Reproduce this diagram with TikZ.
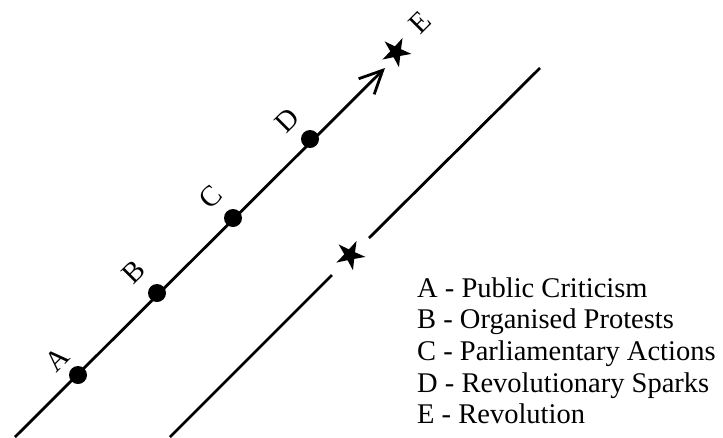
\documentclass[tikz,border=0pt]{standalone}
\usepackage{fontspec}
\setmainfont{Liberation Serif}
\usetikzlibrary{arrows.meta, calc, shapes.geometric}
\tikzset{
  track/.style={line width=2.8pt, line cap=butt},
  stage/.style={circle, fill=black, minimum size=18pt, inner sep=0pt},
  marker/.style={star, star points=5, star point ratio=2.7, fill=black,
    minimum size=31pt, inner sep=0pt, rotate=-25},
  tag/.style={font=\fontsize{29}{32}\selectfont, rotate=45, inner sep=0pt},
  keytext/.style={font=\fontsize{28.5}{32}\selectfont, anchor=base west, inner sep=0pt}
}

\begin{document}
\begin{tikzpicture}[x=1pt, y=-1pt]
\useasboundingbox (0,0) rectangle (723,437);

%% Upper track
\coordinate (s1)  at (15,437);
\coordinate (tip) at (385,68);
\draw[track, -{Straight Barb[length=23pt, width=22pt]}] (s1) -- (tip);

\node[stage] (A) at (78,375) {};
\node[stage] (B) at (157,293) {};
\node[stage] (C) at (233,218) {};
\node[stage] (D) at (310,139) {};
\node[marker] (E) at (396,52) {};

\node[tag] (labA) at (57,359) {A};
\node[tag] (labB) at (134,272) {B};
\node[tag] (labC) at (211,197) {C};
\node[tag] (labD) at (287,120) {D};
\node[tag] (labE) at (420,23)  {E};

%% Lower track, broken at the star
\coordinate (s2)  at (170,437);
\coordinate (g2a) at (332,275);
\coordinate (g2b) at (369,238);
\coordinate (e2)  at (540,68);
\draw[track] (s2) -- (g2a);
\draw[track] (g2b) -- (e2);
\node[marker] (star2) at (350,255) {};

%% Key
\node[keytext] (keyA) at (417,297) {A - Public Criticism};
\node[keytext] (keyB) at (417,328) {B - Organised Protests};
\node[keytext] (keyC) at (417,360) {C - Parliamentary Actions};
\node[keytext] (keyD) at (417,392) {D - Revolutionary Sparks};
\node[keytext] (keyE) at (417,423) {E - Revolution};

\end{tikzpicture}
\end{document}
